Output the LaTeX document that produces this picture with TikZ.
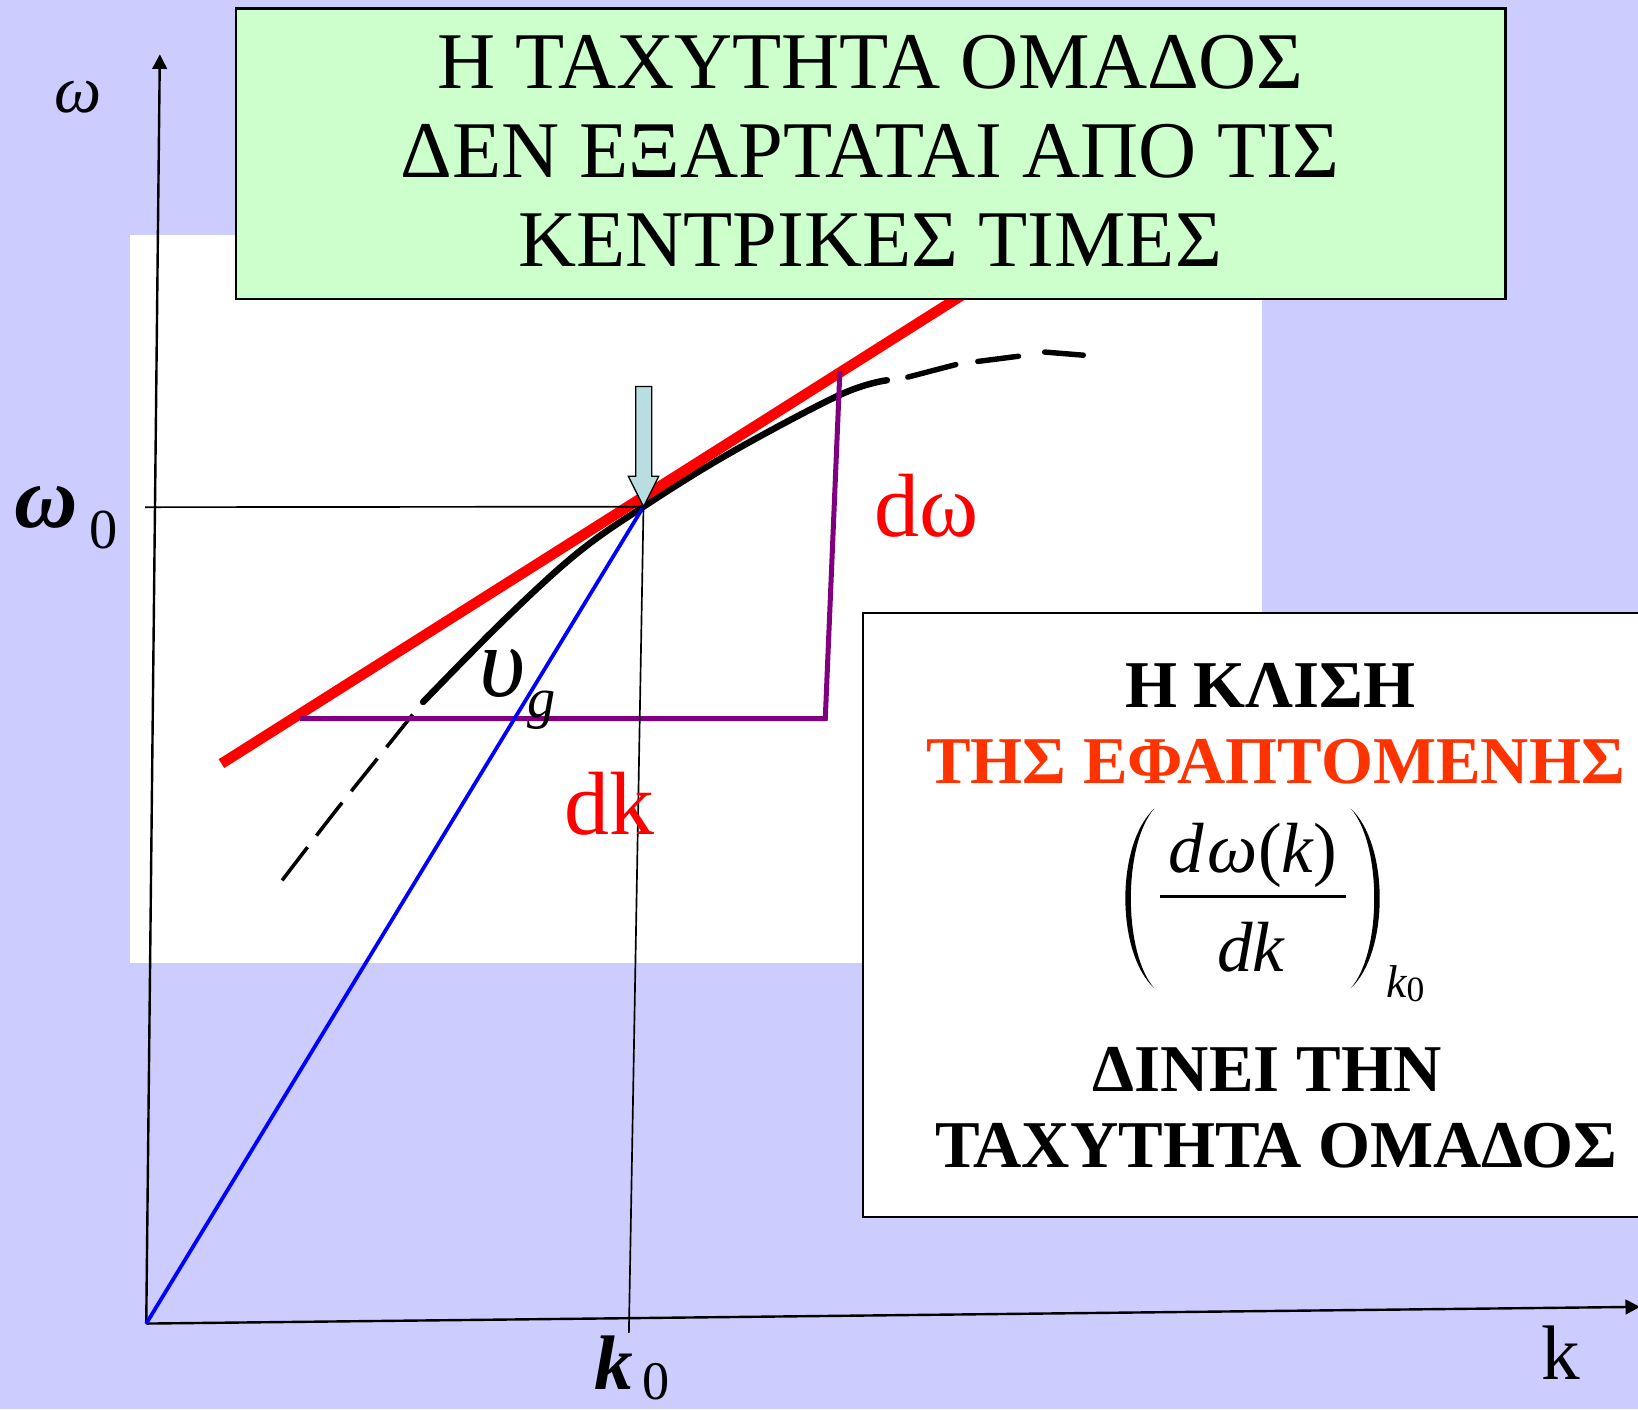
\documentclass[tikz,border=0pt]{standalone}
\usepackage{fontspec}
\setmainfont{Liberation Serif}
\usetikzlibrary{arrows.meta}
\definecolor{lav}{HTML}{CCCCFF}
\definecolor{mint}{HTML}{CCFFCC}
\definecolor{orred}{HTML}{FF3300}
\definecolor{purp}{HTML}{800080}
\definecolor{arrfill}{HTML}{B9DEE1}
\newcommand{\fs}[1]{\fontsize{#1}{#1}\selectfont}
\begin{document}
\begin{tikzpicture}[x=0.5pt,y=-0.5pt,
  lbl/.style={inner sep=0pt,outer sep=0pt,anchor=base},
  axisline/.style={line width=1.15pt,-{Triangle[length=7pt,width=7pt]}},
  guide/.style={line width=0.8pt},
  curvesolid/.style={line width=3.1pt,line cap=round},
  boxframe/.style={line width=1.1pt}]
\useasboundingbox (0,0) rectangle (1568,1349);
\clip (0,0) rectangle (1568,1349);
\fill[lav] (0,0) rectangle (1568,1349);
\fill[white] (124.5,225) rectangle (1208,922);

% coordinates
\coordinate (O) at (140,1267);
\coordinate (Ytip) at (153,52);
\coordinate (Xtip) at (1570,1251);
\coordinate (P) at (616,485);
\coordinate (W0) at (139,485.5);
\coordinate (Kb) at (602,1276);
\coordinate (R1) at (212,731);
\coordinate (R2) at (925,280);
\coordinate (Q1) at (287,688);
\coordinate (Q2) at (790,688);
\coordinate (Q3) at (804,355);

% axes
\draw[axisline] (O) -- (Ytip);
\draw[axisline] (O) -- (Xtip);

% dispersion curve
\draw[curvesolid] plot[smooth,tension=0.6] coordinates {(405,672) (482,594) (552,530) (616,485) (700,433) (804,378) (849,364)};
\draw[line width=1.7pt,dash pattern=on 20pt off 7pt] plot[smooth] coordinates {(395,684) (359,729) (323,774) (289,818) (263,852)};
\draw[line width=2.6pt,line cap=round] (869,361) -- (915,349) (936,346) -- (975,341) (1000,337) -- (1037,340);

% tangent
\draw[red,line width=5pt] (R1) -- (R2);
% dk / domega
\draw[purp,line width=2.4pt] (Q1) -- (Q2) -- (Q3);
% group velocity line
\draw[blue,line width=1.8pt] (O) -- (P);
% guide lines
\draw[guide] (W0) -- (P) -- (Kb);

% arrow
\draw[fill=arrfill,line width=0.6pt] (608.5,370) -- (624,370) -- (624,456) -- (630.5,456) -- (P) -- (601.5,456) -- (608.5,456) -- cycle;

% title box
\draw[boxframe,fill=mint] (226,8) rectangle (1441,286);
\node[lbl] (t1) at (833,85) {\fs{38.5}Η ΤΑΧΥΤΗΤΑ ΟΜΑΔΟΣ};
\node[lbl] (t2) at (833,170) {\fs{38.5}ΔΕΝ ΕΞΑΡΤΑΤΑΙ ΑΠΟ ΤΙΣ};
\node[lbl] (t3) at (833,255) {\fs{38.5}ΚΕΝΤΡΙΚΕΣ ΤΙΜΕΣ};

% labels on the plot
\node[lbl] (om) at (75,108) {\fs{32}\itshape ω};
\node[lbl] (om0) at (44,505) {\fs{42}\bfseries\itshape ω};
\node[lbl] (om0s) at (99,525) {\fs{27}0};
\node[lbl] (k0) at (588,1330) {\fs{37}\bfseries\itshape k};
\node[lbl] (k0s) at (628,1340) {\fs{26}0};
\node[lbl] (kl) at (1494.5,1321) {\fs{37}k};
\node[lbl,text=red] (dw) at (887,514) {\fs{43}dω};
\node[lbl,text=red] (dk) at (583.5,799) {\fs{43}dk};
\node[lbl] (ups) at (481,667) {\fs{48}\itshape υ};
\node[lbl] (g) at (518,687) {\fs{27}\itshape g};

% right box
\draw[boxframe,fill=white] (826,587) rectangle (1580,1165);
\node[lbl] (r1) at (1216,677) {\fs{32}\bfseries Η ΚΛΙΣΗ};
\node[lbl,text=orred] (r2) at (1221,750) {\fs{32}\bfseries ΤΗΣ ΕΦΑΠΤΟΜΕΝΗΣ};
\node[lbl] (num) at (1199,835) {\fs{34}\itshape d\kern2pt ω\upshape(\itshape k\upshape)};
\draw[line width=1.3pt] (1110,858) -- (1288,858);
\node[lbl] (den) at (1197.5,930) {\fs{34}\itshape dk};
\fill (1105,774) .. controls (1068,808) and (1068,912) .. (1105,946)
      .. controls (1075,912) and (1075,808) .. (1105,774) -- cycle;
\fill (1293,774) .. controls (1330,808) and (1330,912) .. (1293,946)
      .. controls (1323,912) and (1323,808) .. (1293,774) -- cycle;
\node[lbl] (sk) at (1337,955) {\fs{22}\itshape k};
\node[lbl] (s0) at (1355,959) {\fs{17}0};
\node[lbl] (r3) at (1213,1045) {\fs{32}\bfseries ΔΙΝΕΙ ΤΗΝ};
\node[lbl] (r4) at (1222,1118) {\fs{32}\bfseries ΤΑΧΥΤΗΤΑ ΟΜΑΔΟΣ};
\end{tikzpicture}
\end{document}
